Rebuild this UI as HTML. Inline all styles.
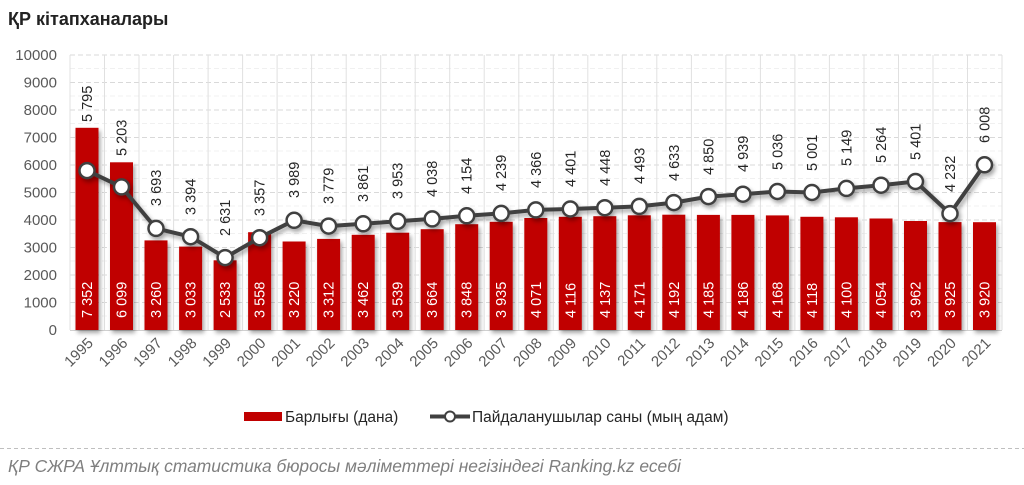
<!DOCTYPE html>
<html><head><meta charset="utf-8"><style>
body{margin:0;background:#fff;width:1024px;height:485px;overflow:hidden}
svg{display:block;font-family:"Liberation Sans","DejaVu Sans",sans-serif}
</style></head><body>
<svg width="1024" height="485" viewBox="0 0 1024 485">
<defs>
<filter id="sh" x="-10%" y="-10%" width="120%" height="130%"><feDropShadow dx="2" dy="3" stdDeviation="2" flood-color="#000" flood-opacity="0.35"/></filter>
</defs>
<text x="8" y="25" font-size="18" font-weight="bold" fill="#222">ҚР кітапханалары</text>
<g stroke="#d9d9d9" stroke-width="1" stroke-dasharray="5,3">
<line x1="70" x2="1002" y1="302.5" y2="302.5"/><line x1="70" x2="1002" y1="275" y2="275"/><line x1="70" x2="1002" y1="247.5" y2="247.5"/><line x1="70" x2="1002" y1="220" y2="220"/><line x1="70" x2="1002" y1="192.5" y2="192.5"/><line x1="70" x2="1002" y1="165" y2="165"/><line x1="70" x2="1002" y1="137.5" y2="137.5"/><line x1="70" x2="1002" y1="110" y2="110"/><line x1="70" x2="1002" y1="82.5" y2="82.5"/><line x1="70" x2="1002" y1="55" y2="55"/>
</g>
<g stroke="#f0f0f0" stroke-width="1" stroke-dasharray="5,3">
<line x1="70" x2="1002" y1="316" y2="316"/><line x1="70" x2="1002" y1="288.5" y2="288.5"/><line x1="70" x2="1002" y1="261" y2="261"/><line x1="70" x2="1002" y1="233.5" y2="233.5"/><line x1="70" x2="1002" y1="206" y2="206"/><line x1="70" x2="1002" y1="178.5" y2="178.5"/><line x1="70" x2="1002" y1="151" y2="151"/><line x1="70" x2="1002" y1="123.5" y2="123.5"/><line x1="70" x2="1002" y1="96" y2="96"/><line x1="70" x2="1002" y1="68.5" y2="68.5"/>
</g>
<g stroke="#e0e0e0" stroke-width="1">
<line x1="70" x2="70" y1="55" y2="330"/><line x1="104.5" x2="104.5" y1="55" y2="330"/><line x1="139" x2="139" y1="55" y2="330"/><line x1="173.6" x2="173.6" y1="55" y2="330"/><line x1="208.1" x2="208.1" y1="55" y2="330"/><line x1="242.6" x2="242.6" y1="55" y2="330"/><line x1="277.1" x2="277.1" y1="55" y2="330"/><line x1="311.6" x2="311.6" y1="55" y2="330"/><line x1="346.2" x2="346.2" y1="55" y2="330"/><line x1="380.7" x2="380.7" y1="55" y2="330"/><line x1="415.2" x2="415.2" y1="55" y2="330"/><line x1="449.7" x2="449.7" y1="55" y2="330"/><line x1="484.2" x2="484.2" y1="55" y2="330"/><line x1="518.8" x2="518.8" y1="55" y2="330"/><line x1="553.3" x2="553.3" y1="55" y2="330"/><line x1="587.8" x2="587.8" y1="55" y2="330"/><line x1="622.3" x2="622.3" y1="55" y2="330"/><line x1="656.8" x2="656.8" y1="55" y2="330"/><line x1="691.4" x2="691.4" y1="55" y2="330"/><line x1="725.9" x2="725.9" y1="55" y2="330"/><line x1="760.4" x2="760.4" y1="55" y2="330"/><line x1="794.9" x2="794.9" y1="55" y2="330"/><line x1="829.4" x2="829.4" y1="55" y2="330"/><line x1="864" x2="864" y1="55" y2="330"/><line x1="898.5" x2="898.5" y1="55" y2="330"/><line x1="933" x2="933" y1="55" y2="330"/><line x1="967.5" x2="967.5" y1="55" y2="330"/><line x1="1002" x2="1002" y1="55" y2="330"/>
</g>
<line x1="70" x2="1002" y1="330.5" y2="330.5" stroke="#d0d0d0"/>
<g font-size="15" fill="#595959" text-anchor="end">
<text x="57" y="335">0</text><text x="57" y="307.5">1000</text><text x="57" y="280">2000</text><text x="57" y="252.5">3000</text><text x="57" y="225">4000</text><text x="57" y="197.5">5000</text><text x="57" y="170">6000</text><text x="57" y="142.5">7000</text><text x="57" y="115">8000</text><text x="57" y="87.5">9000</text><text x="57" y="60">10000</text>
</g>
<g fill="#c00000" filter="url(#sh)">
<rect x="75.5" y="127.8" width="23" height="202.2"/><rect x="110" y="162.3" width="23" height="167.7"/><rect x="144.5" y="240.4" width="23" height="89.6"/><rect x="179.1" y="246.6" width="23" height="83.4"/><rect x="213.6" y="260.3" width="23" height="69.7"/><rect x="248.1" y="232.2" width="23" height="97.8"/><rect x="282.6" y="241.5" width="23" height="88.5"/><rect x="317.1" y="238.9" width="23" height="91.1"/><rect x="351.7" y="234.8" width="23" height="95.2"/><rect x="386.2" y="232.7" width="23" height="97.3"/><rect x="420.7" y="229.2" width="23" height="100.8"/><rect x="455.2" y="224.2" width="23" height="105.8"/><rect x="489.7" y="221.8" width="23" height="108.2"/><rect x="524.3" y="218" width="23" height="112"/><rect x="558.8" y="216.8" width="23" height="113.2"/><rect x="593.3" y="216.2" width="23" height="113.8"/><rect x="627.8" y="215.3" width="23" height="114.7"/><rect x="662.3" y="214.7" width="23" height="115.3"/><rect x="696.9" y="214.9" width="23" height="115.1"/><rect x="731.4" y="214.9" width="23" height="115.1"/><rect x="765.9" y="215.4" width="23" height="114.6"/><rect x="800.4" y="216.8" width="23" height="113.2"/><rect x="834.9" y="217.3" width="23" height="112.7"/><rect x="869.5" y="218.5" width="23" height="111.5"/><rect x="904" y="221" width="23" height="109"/><rect x="938.5" y="222.1" width="23" height="107.9"/><rect x="973" y="222.2" width="23" height="107.8"/>
</g>
<g font-size="14.5" fill="#fff">
<text transform="translate(92,318) rotate(-90)">7 352</text><text transform="translate(126.5,318) rotate(-90)">6 099</text><text transform="translate(161,318) rotate(-90)">3 260</text><text transform="translate(195.6,318) rotate(-90)">3 033</text><text transform="translate(230.1,318) rotate(-90)">2 533</text><text transform="translate(264.6,318) rotate(-90)">3 558</text><text transform="translate(299.1,318) rotate(-90)">3 220</text><text transform="translate(333.6,318) rotate(-90)">3 312</text><text transform="translate(368.2,318) rotate(-90)">3 462</text><text transform="translate(402.7,318) rotate(-90)">3 539</text><text transform="translate(437.2,318) rotate(-90)">3 664</text><text transform="translate(471.7,318) rotate(-90)">3 848</text><text transform="translate(506.2,318) rotate(-90)">3 935</text><text transform="translate(540.8,318) rotate(-90)">4 071</text><text transform="translate(575.3,318) rotate(-90)">4 116</text><text transform="translate(609.8,318) rotate(-90)">4 137</text><text transform="translate(644.3,318) rotate(-90)">4 171</text><text transform="translate(678.8,318) rotate(-90)">4 192</text><text transform="translate(713.4,318) rotate(-90)">4 185</text><text transform="translate(747.9,318) rotate(-90)">4 186</text><text transform="translate(782.4,318) rotate(-90)">4 168</text><text transform="translate(816.9,318) rotate(-90)">4 118</text><text transform="translate(851.4,318) rotate(-90)">4 100</text><text transform="translate(886,318) rotate(-90)">4 054</text><text transform="translate(920.5,318) rotate(-90)">3 962</text><text transform="translate(955,318) rotate(-90)">3 925</text><text transform="translate(989.5,318) rotate(-90)">3 920</text>
</g>
<g filter="url(#sh)">
<polyline fill="none" stroke="#404040" stroke-width="4" stroke-linejoin="round" points="87,170.6 121.5,186.9 156,228.4 190.6,236.7 225.1,257.6 259.6,237.7 294.1,220.3 328.6,226.1 363.2,223.8 397.7,221.3 432.2,218.9 466.7,215.8 501.2,213.4 535.8,209.9 570.3,209 604.8,207.7 639.3,206.4 673.8,202.6 708.4,196.6 742.9,194.2 777.4,191.5 811.9,192.5 846.4,188.4 881,185.2 915.5,181.5 950,213.6 984.5,164.8"/>
<g fill="#fff" stroke="#404040" stroke-width="2.5">
<circle cx="87" cy="170.6" r="7.5"/><circle cx="121.5" cy="186.9" r="7.5"/><circle cx="156" cy="228.4" r="7.5"/><circle cx="190.6" cy="236.7" r="7.5"/><circle cx="225.1" cy="257.6" r="7.5"/><circle cx="259.6" cy="237.7" r="7.5"/><circle cx="294.1" cy="220.3" r="7.5"/><circle cx="328.6" cy="226.1" r="7.5"/><circle cx="363.2" cy="223.8" r="7.5"/><circle cx="397.7" cy="221.3" r="7.5"/><circle cx="432.2" cy="218.9" r="7.5"/><circle cx="466.7" cy="215.8" r="7.5"/><circle cx="501.2" cy="213.4" r="7.5"/><circle cx="535.8" cy="209.9" r="7.5"/><circle cx="570.3" cy="209" r="7.5"/><circle cx="604.8" cy="207.7" r="7.5"/><circle cx="639.3" cy="206.4" r="7.5"/><circle cx="673.8" cy="202.6" r="7.5"/><circle cx="708.4" cy="196.6" r="7.5"/><circle cx="742.9" cy="194.2" r="7.5"/><circle cx="777.4" cy="191.5" r="7.5"/><circle cx="811.9" cy="192.5" r="7.5"/><circle cx="846.4" cy="188.4" r="7.5"/><circle cx="881" cy="185.2" r="7.5"/><circle cx="915.5" cy="181.5" r="7.5"/><circle cx="950" cy="213.6" r="7.5"/><circle cx="984.5" cy="164.8" r="7.5"/>
</g></g>
<g font-size="14.5" fill="#262626">
<text transform="translate(92,122) rotate(-90)">5 795</text><text transform="translate(126.5,156) rotate(-90)">5 203</text><text transform="translate(161,206) rotate(-90)">3 693</text><text transform="translate(195.6,215) rotate(-90)">3 394</text><text transform="translate(230.1,236) rotate(-90)">2 631</text><text transform="translate(264.6,216) rotate(-90)">3 357</text><text transform="translate(299.1,198) rotate(-90)">3 989</text><text transform="translate(333.6,204) rotate(-90)">3 779</text><text transform="translate(368.2,202) rotate(-90)">3 861</text><text transform="translate(402.7,199) rotate(-90)">3 953</text><text transform="translate(437.2,197) rotate(-90)">4 038</text><text transform="translate(471.7,194) rotate(-90)">4 154</text><text transform="translate(506.2,191) rotate(-90)">4 239</text><text transform="translate(540.8,188) rotate(-90)">4 366</text><text transform="translate(575.3,187) rotate(-90)">4 401</text><text transform="translate(609.8,186) rotate(-90)">4 448</text><text transform="translate(644.3,184) rotate(-90)">4 493</text><text transform="translate(678.8,181) rotate(-90)">4 633</text><text transform="translate(713.4,175) rotate(-90)">4 850</text><text transform="translate(747.9,172) rotate(-90)">4 939</text><text transform="translate(782.4,170) rotate(-90)">5 036</text><text transform="translate(816.9,171) rotate(-90)">5 001</text><text transform="translate(851.4,166) rotate(-90)">5 149</text><text transform="translate(886,163) rotate(-90)">5 264</text><text transform="translate(920.5,160) rotate(-90)">5 401</text><text transform="translate(955,192) rotate(-90)">4 232</text><text transform="translate(989.5,143) rotate(-90)">6 008</text>
</g>
<g font-size="15" fill="#595959" text-anchor="end">
<text transform="translate(94,344) rotate(-45)">1995</text><text transform="translate(128.5,344) rotate(-45)">1996</text><text transform="translate(163,344) rotate(-45)">1997</text><text transform="translate(197.6,344) rotate(-45)">1998</text><text transform="translate(232.1,344) rotate(-45)">1999</text><text transform="translate(266.6,344) rotate(-45)">2000</text><text transform="translate(301.1,344) rotate(-45)">2001</text><text transform="translate(335.6,344) rotate(-45)">2002</text><text transform="translate(370.2,344) rotate(-45)">2003</text><text transform="translate(404.7,344) rotate(-45)">2004</text><text transform="translate(439.2,344) rotate(-45)">2005</text><text transform="translate(473.7,344) rotate(-45)">2006</text><text transform="translate(508.2,344) rotate(-45)">2007</text><text transform="translate(542.8,344) rotate(-45)">2008</text><text transform="translate(577.3,344) rotate(-45)">2009</text><text transform="translate(611.8,344) rotate(-45)">2010</text><text transform="translate(646.3,344) rotate(-45)">2011</text><text transform="translate(680.8,344) rotate(-45)">2012</text><text transform="translate(715.4,344) rotate(-45)">2013</text><text transform="translate(749.9,344) rotate(-45)">2014</text><text transform="translate(784.4,344) rotate(-45)">2015</text><text transform="translate(818.9,344) rotate(-45)">2016</text><text transform="translate(853.4,344) rotate(-45)">2017</text><text transform="translate(888,344) rotate(-45)">2018</text><text transform="translate(922.5,344) rotate(-45)">2019</text><text transform="translate(957,344) rotate(-45)">2020</text><text transform="translate(991.5,344) rotate(-45)">2021</text>
</g>
<rect x="244" y="412" width="38" height="9" fill="#c00000"/>
<text x="285" y="422" font-size="15.5" fill="#262626">Барлығы (дана)</text>
<line x1="430" x2="470" y1="416.5" y2="416.5" stroke="#404040" stroke-width="4"/>
<circle cx="450" cy="416.5" r="5" fill="#fff" stroke="#404040" stroke-width="2"/>
<text x="472" y="422" font-size="15.5" fill="#262626">Пайдаланушылар саны (мың адам)</text>
<line x1="0" x2="1024" y1="448.5" y2="448.5" stroke="#bfbfbf" stroke-dasharray="4,3"/>
<text x="8" y="472" font-size="17.4" font-style="italic" fill="#7f7f7f">ҚР СЖРА Ұлттық статистика бюросы мәліметтері негізіндегі Ranking.kz есебі</text>
</svg>
</body></html>
